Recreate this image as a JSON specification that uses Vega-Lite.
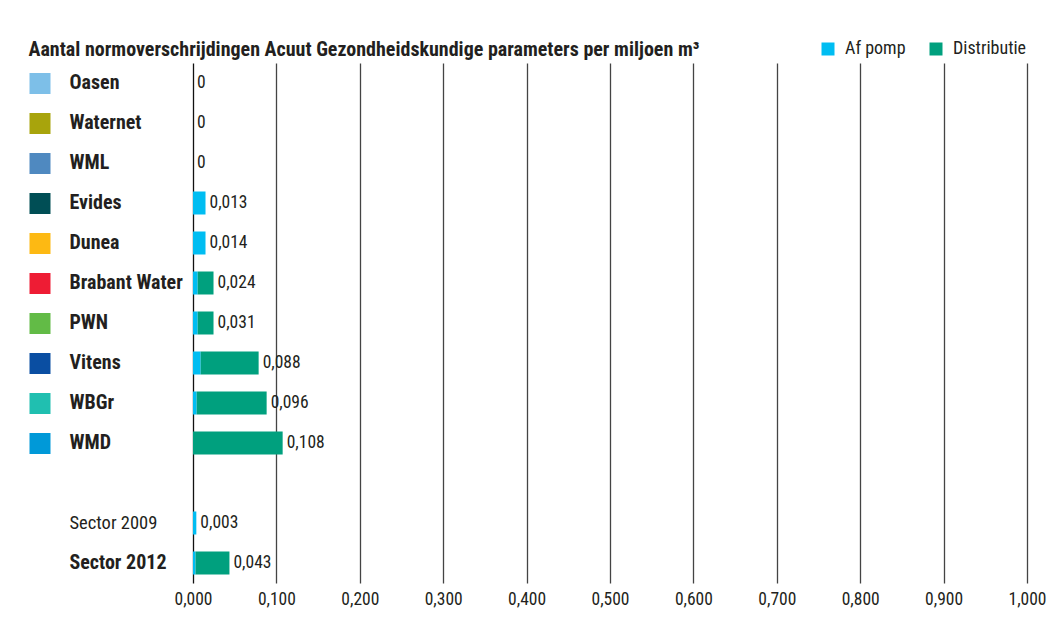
{
  "$schema": "https://vega.github.io/schema/vega-lite/v6.json",
  "width": 834,
  "height": 520,
  "autosize": {"type": "none"},
  "padding": {"left": 193, "top": 63, "right": 31, "bottom": 38},
  "background": "white",
  "config": {"font": "Roboto Condensed, DejaVu Sans Condensed, Roboto, sans-serif", "view": {"stroke": null}},
  "title": {
    "text": "Aantal normoverschrijdingen Acuut Gezondheidskundige parameters per miljoen m³",
    "anchor": "start",
    "frame": "bounds",
    "fontSize": 20,
    "fontWeight": "bold",
    "color": "#231f20",
    "offset": 8,
    "dx": 10,
    "dy": 28
  },
  "data": {
    "values": [
      {"company": "Oasen", "Af pomp": 0, "Distributie": 0, "label": "0"},
      {"company": "Waternet", "Af pomp": 0, "Distributie": 0, "label": "0"},
      {"company": "WML", "Af pomp": 0, "Distributie": 0, "label": "0"},
      {"company": "Evides", "Af pomp": 0.015, "Distributie": 0, "label": "0,013"},
      {"company": "Dunea", "Af pomp": 0.015, "Distributie": 0, "label": "0,014"},
      {"company": "Brabant Water", "Af pomp": 0.0056, "Distributie": 0.019, "label": "0,024"},
      {"company": "PWN", "Af pomp": 0.0056, "Distributie": 0.019, "label": "0,031"},
      {"company": "Vitens", "Af pomp": 0.0092, "Distributie": 0.0695, "label": "0,088"},
      {"company": "WBGr", "Af pomp": 0.0044, "Distributie": 0.0839, "label": "0,096"},
      {"company": "WMD", "Af pomp": 0, "Distributie": 0.1075, "label": "0,108"},
      {"company": "Sector 2009", "Af pomp": 0.004, "Distributie": 0, "label": "0,003"},
      {"company": "Sector 2012", "Af pomp": 0.003, "Distributie": 0.0407, "label": "0,043"}
    ]
  },
  "transform": [{"fold": ["Af pomp", "Distributie"], "as": ["type", "value"]}],
  "encoding": {
    "y": {
      "field": "company",
      "type": "nominal",
      "scale": {
        "domain": ["Oasen", "Waternet", "WML", "Evides", "Dunea", "Brabant Water", "PWN", "Vitens", "WBGr", "WMD", " ", "Sector 2009", "Sector 2012"],
        "paddingInner": 0.425,
        "paddingOuter": 0.2125
      },
      "axis": {
        "title": null,
        "orient": "left",
        "offset": 143,
        "domain": false,
        "grid": false,
        "ticks": true,
        "tickSize": 21,
        "tickWidth": 21,
        "bandPosition": 0.5,
        "tickColor": {
          "condition": [
            {"test": "datum.value === 'Oasen'", "value": "#7dbfe8"},
            {"test": "datum.value === 'Waternet'", "value": "#a8a40c"},
            {"test": "datum.value === 'WML'", "value": "#4f89c0"},
            {"test": "datum.value === 'Evides'", "value": "#004e55"},
            {"test": "datum.value === 'Dunea'", "value": "#fdb913"},
            {"test": "datum.value === 'Brabant Water'", "value": "#ee1c34"},
            {"test": "datum.value === 'PWN'", "value": "#62bb46"},
            {"test": "datum.value === 'Vitens'", "value": "#0a4ea2"},
            {"test": "datum.value === 'WBGr'", "value": "#20bfb0"},
            {"test": "datum.value === 'WMD'", "value": "#0099d8"}
          ],
          "value": "transparent"
        },
        "labelAlign": "left",
        "labelBaseline": "middle",
        "labelPadding": -40,
        "labelFontSize": {
          "condition": {"test": "datum.value === 'Sector 2009'", "value": 18.5},
          "value": 20
        },
        "labelColor": "#231f20",
        "labelFontWeight": {
          "condition": {"test": "datum.value === 'Sector 2009'", "value": "normal"},
          "value": "bold"
        }
      }
    }
  },
  "layer": [
    {
      "mark": {"type": "bar"},
      "encoding": {
        "x": {
          "field": "value",
          "type": "quantitative",
          "stack": "zero",
          "scale": {"domain": [0, 1]},
          "axis": {
            "title": null,
            "values": [0, 0.1, 0.2, 0.3, 0.4, 0.5, 0.6, 0.7, 0.8, 0.9, 1],
            "domain": false,
            "ticks": false,
            "grid": true,
            "gridColor": {"condition": {"test": "datum.value === 0", "value": "#111111"}, "value": "#444444"},
            "gridWidth": 1.3,
            "labelExpr": "replace(format(datum.value, '.3f'), '.', ',')",
            "labelFontSize": 17.5,
            "labelColor": "#231f20",
            "labelPadding": 7,
            "labelFlush": false
          }
        },
        "color": {
          "field": "type",
          "type": "nominal",
          "scale": {"domain": ["Af pomp", "Distributie"], "range": ["#00bdf2", "#00a07e"]},
          "legend": {
            "title": null,
            "orient": "none",
            "legendX": 626,
            "legendY": -23,
            "direction": "horizontal",
            "symbolType": "square",
            "symbolSize": 169,
            "symbolStrokeWidth": 0,
            "labelFontSize": 18,
            "labelColor": "#231f20",
            "labelOffset": 8,
            "columnPadding": 21
          }
        }
      }
    },
    {
      "mark": {"type": "text", "align": "left", "baseline": "middle", "dx": 4, "fontSize": 17.5, "color": "#231f20"},
      "encoding": {
        "x": {"aggregate": "sum", "field": "value", "type": "quantitative"},
        "text": {"field": "label"}
      }
    }
  ]
}
